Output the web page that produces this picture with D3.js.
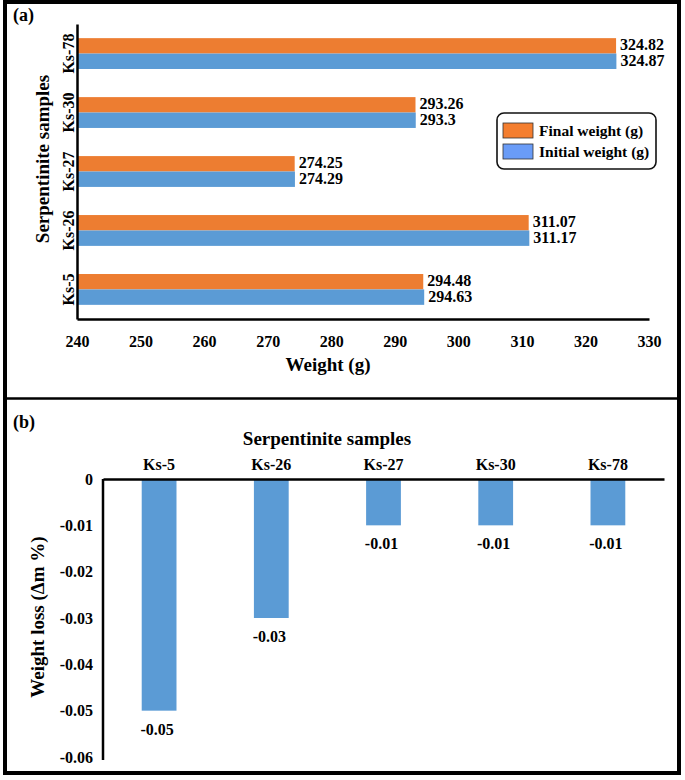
<!DOCTYPE html>
<html>
<head>
<meta charset="utf-8">
<script src="https://cdn.jsdelivr.net/npm/d3@7"></script>
<style>
  body { margin: 0; background: #fff; }
  text { font-family: "Times New Roman", "Liberation Serif", "DejaVu Serif", serif; font-weight: bold; fill: #000; }
</style>
</head>
<body>
<svg id="chart" width="685" height="780"></svg>
<script>
// data
var samples = ["Ks-5", "Ks-26", "Ks-27", "Ks-30", "Ks-78"];
var finalWeight = [294.48, 311.07, 274.25, 293.26, 324.82];
var initialWeight = [294.63, 311.17, 274.29, 293.3, 324.87];
var weightLoss = [-0.05, -0.03, -0.01, -0.01, -0.01];
var weightTicks = [240, 250, 260, 270, 280, 290, 300, 310, 320, 330];
var lossTicks = [0, -0.01, -0.02, -0.03, -0.04, -0.05, -0.06];
var seriesNames = ["Final weight (g)", "Initial weight (g)"];

var orange = "#ED7D31";
var blue = "#5B9BD5";
var serif = '"Times New Roman", "Liberation Serif", "DejaVu Serif", serif';

var svg = d3.select("#chart");

//outer frame and divider
svg.append("rect")
  .attr("x", 5).attr("y", 2)
  .attr("width", 674).attr("height", 771)
  .attr("fill", "none").attr("stroke", "#000").attr("stroke-width", 4);
svg.append("line")
  .attr("x1", 5).attr("x2", 679)
  .attr("y1", 398.5).attr("y2", 398.5)
  .attr("stroke", "#000").attr("stroke-width", 2.5);

// ---------- panel (a) ----------
var a = svg.append("g");
var xa = d3.scaleLinear().domain([240, 330]).range([77, 649]);
var ya = d3.scaleBand().domain(samples.slice().reverse()).range([24, 319])
  .paddingInner(0.477).paddingOuter(0.24);
var inner = d3.scaleBand().domain([0, 1]).range([0, ya.bandwidth()]);

var rows = samples.map(function(s, i) {
  return { name: s, vals: [finalWeight[i], initialWeight[i]] };
});

var groups = a.selectAll("g.row")
  .data(rows)
  .enter()
  .append("g")
  .attr("class", "row")
  .attr("transform", function(d) { return "translate(0," + ya(d.name) + ")"; });

groups.selectAll("rect")
  .data(function(d) { return d.vals; })
  .enter()
  .append("rect")
  .attr("x", xa(240))
  .attr("y", function(d, i) { return inner(i); })
  .attr("width", function(d) { return xa(d) - xa(240); })
  .attr("height", inner.bandwidth())
  .attr("fill", function(d, i) { return i == 0 ? orange : blue; });

groups.selectAll("text")
  .data(function(d) { return d.vals; })
  .enter()
  .append("text")
  .text(function(d) { return d; })
  .attr("x", function(d) { return xa(d) + 4; })
  .attr("y", function(d, i) { return inner(i) + inner.bandwidth() / 2 - 1; })
  .attr("dy", "0.35em")
  .style("font-size", "16px");

//x axis
var xAxisA = a.append("g")
  .attr("transform", "translate(0,319)")
  .call(d3.axisBottom(xa).tickValues(weightTicks).tickSize(0).tickPadding(17).tickSizeOuter(0));
xAxisA.select(".domain").attr("stroke", "#000").attr("stroke-width", 2.5);
xAxisA.selectAll("text").style("font-size", "16px").style("font-family", serif);

//y axis with rotated labels
var yAxisA = a.append("g")
  .attr("transform", "translate(77,0)")
  .call(d3.axisLeft(ya).tickSize(0).tickSizeOuter(0));
yAxisA.select(".domain").attr("stroke", "#000").attr("stroke-width", 2.5);
yAxisA.selectAll("text")
  .attr("transform", "rotate(-90)")
  .attr("x", 0).attr("y", -3).attr("dy", "0")
  .attr("text-anchor", "middle")
  .style("font-size", "16px").style("font-family", serif);

a.append("text").text("Weight (g)")
  .attr("x", 328).attr("y", 371)
  .attr("text-anchor", "middle").style("font-size", "19px");
a.append("text").text("Serpentinite samples")
  .attr("transform", "translate(49,159) rotate(-90)")
  .attr("text-anchor", "middle").style("font-size", "19px");
a.append("text").text("(a)")
  .attr("x", 13).attr("y", 21).style("font-size", "18px");

//legend
var legend = a.append("g").attr("transform", "translate(497,113)");
legend.append("rect")
  .attr("width", 159).attr("height", 56).attr("rx", 7)
  .attr("fill", "#fff").attr("stroke", "#111").attr("stroke-width", 1.6);
var legendItems = legend.selectAll("g.item")
  .data(seriesNames)
  .enter()
  .append("g")
  .attr("transform", function(d, i) { return "translate(6," + (10 + i * 21) + ")"; });
legendItems.append("rect")
  .attr("width", 30).attr("height", 15)
  .attr("fill", function(d, i) { return i == 0 ? "#F47E2F" : "#6A9CF7"; })
  .attr("stroke", "#333").attr("stroke-width", 0.8);
legendItems.append("text")
  .text(function(d) { return d; })
  .attr("x", 36).attr("y", 8).attr("dy", "0.35em")
  .style("font-size", "15.5px");

// ---------- panel (b) ----------
var b = svg.append("g");
var xb = d3.scaleBand().domain(samples).range([103, 664]).paddingInner(0.69).paddingOuter(0.345);
var yb = d3.scaleLinear().domain([-0.06, 0]).range([757, 479]);

b.selectAll("rect")
  .data(weightLoss)
  .enter()
  .append("rect")
  .attr("x", function(d, i) { return xb(samples[i]); })
  .attr("y", yb(0))
  .attr("width", xb.bandwidth())
  .attr("height", function(d) { return yb(d) - yb(0); })
  .attr("fill", blue);

b.selectAll("text.val")
  .data(weightLoss)
  .enter()
  .append("text")
  .attr("class", "val")
  .text(function(d) { return d.toFixed(2); })
  .attr("x", function(d, i) { return xb(samples[i]) + xb.bandwidth() / 2 - 2; })
  .attr("y", function(d) { return yb(d) + 24; })
  .attr("text-anchor", "middle")
  .style("font-size", "16px");

//y axis
var yAxisB = b.append("g")
  .attr("transform", "translate(103,0)")
  .call(d3.axisLeft(yb).tickValues(lossTicks).tickSize(0).tickPadding(10).tickSizeOuter(0)
    .tickFormat(function(d) { return d == 0 ? "0" : d.toFixed(2); }));
yAxisB.select(".domain").attr("stroke", "#000").attr("stroke-width", 2.5)
  .attr("d", "M0," + (yb(-0.06) + 3) + "V" + yb(0));
yAxisB.selectAll("text").style("font-size", "16px").style("font-family", serif);

//category axis along zero line
var xAxisB = b.append("g")
  .attr("transform", "translate(0," + yb(0) + ")")
  .call(d3.axisTop(xb).tickSize(0).tickPadding(9).tickSizeOuter(0));
xAxisB.select(".domain").attr("stroke", "#000").attr("stroke-width", 2.5);
xAxisB.selectAll("text").style("font-size", "16px").style("font-family", serif);

b.append("text").text("Serpentinite samples")
  .attr("x", 327).attr("y", 445)
  .attr("text-anchor", "middle").style("font-size", "19px");
b.append("text").text("Weight loss (Δm %)")
  .attr("transform", "translate(44,617) rotate(-90)")
  .attr("text-anchor", "middle").style("font-size", "19px");
b.append("text").text("(b)")
  .attr("x", 13).attr("y", 428).style("font-size", "18px");
</script>
</body>
</html>
